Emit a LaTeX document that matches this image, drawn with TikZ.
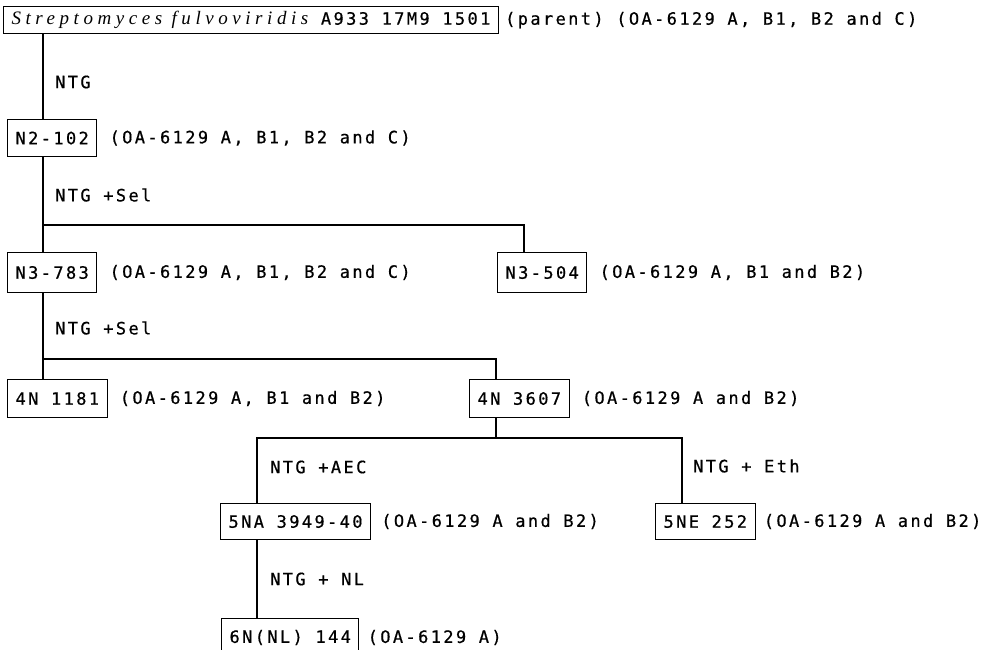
\documentclass[tikz,border=0pt]{standalone}
\usepackage{fontspec}
\newfontfamily\labfont{DejaVu Sans Mono}[LetterSpace=14, FakeBold=0.6]
\newfontfamily\specfont{Liberation Serif}[LetterSpace=24]
\usetikzlibrary{positioning}

\begin{document}
\begin{tikzpicture}[
    x=1pt, y=-1pt,
    node distance=12pt,
    every node/.style={font=\labfont\fontsize{17}{20}\selectfont},
    % --- strain boxes ---
    strain/.style={
      draw, line width=1.1pt, anchor=north west,
      minimum height=37pt, inner xsep=8pt, inner ysep=0pt,
    },
    % --- products of a strain ---
    prod/.style={inner sep=0pt},
    % --- mutagen treatment ---
    treat/.style={anchor=west, inner sep=0pt},
    link/.style={line width=1.1pt},
  ]

  \useasboundingbox (0,0) rectangle (1001,650);
  \clip (0,0) rectangle (1001,650);

  %% ---- Strains ----

  % Parent
  \node[strain, minimum height=27pt, minimum width=491pt] (parent) at (3,6)
    {{\specfont\itshape\fontsize{19}{20}\selectfont Streptomyces\ fulvoviridis} A933 17M9 1501};

  % Generation 2 and 3
  \node[strain] (n2) at (7,119) {N2-102};
  \node[strain, minimum height=40pt] (n3a) at (7,252) {N3-783};
  \node[strain, minimum height=40pt] (n3b) at (497,252) {N3-504};

  % Generation 4
  \node[strain, minimum height=38pt] (n4a) at (7,379) {4N 1181};
  \node[strain, minimum height=38pt] (n4b) at (469,379) {4N 3607};

  % Generation 5 and 6
  \node[strain, minimum height=36pt] (n5a) at (220,503) {5NA 3949-40};
  \node[strain, minimum height=36pt] (n5b) at (655,503) {5NE 252};
  \node[strain, minimum height=38pt] (n6) at (221,618) {6N(NL) 144};

  %% ---- Products ----

  \node[prod, right=6pt of parent] (pparent) {(parent) (OA-6129 A, B1, B2 and C)};
  \node[prod, right=of n2] (pn2) {(OA-6129 A, B1, B2 and C)};
  \node[prod, right=of n3a] (pn3a) {(OA-6129 A, B1, B2 and C)};
  \node[prod, right=of n3b] (pn3b) {(OA-6129 A, B1 and B2)};
  \node[prod, right=of n4a] (pn4a) {(OA-6129 A, B1 and B2)};
  \node[prod, right=of n4b] (pn4b) {(OA-6129 A and B2)};
  \node[prod, right=10pt of n5a] (pn5a) {(OA-6129 A and B2)};
  \node[prod, right=8pt of n5b] (pn5b) {(OA-6129 A and B2)};
  \node[prod, right=8pt of n6] (pn6) {(OA-6129 A)};

  %% ---- Lines of descent ----

  \coordinate (colA) at (43,0);
  \coordinate (colB) at (524,0);
  \coordinate (colC) at (496,0);
  \coordinate (colD) at (257,0);
  \coordinate (colE) at (682,0);
  \coordinate (fork1) at (43,225);
  \coordinate (fork2) at (43,359);
  \coordinate (fork3) at (496,438);

  \draw[link] (parent.south -| colA) -- (n2.north -| colA);
  \draw[link] (n2.south -| colA) -- (n3a.north -| colA);
  \draw[link] (fork1) -| (n3b.north -| colB);
  \draw[link] (n3a.south -| colA) -- (n4a.north -| colA);
  \draw[link] (fork2) -| (n4b.north -| colC);
  \draw[link] (n4b.south -| colC) -- (fork3);
  \draw[link] (n5a.north -| colD) |- (fork3) -| (n5b.north -| colE);
  \draw[link] (n5a.south -| colD) -- (n6.north -| colD);

  %% ---- Treatments ----

  \node[treat] (t1) at (55,82) {NTG};
  \node[treat] (t2) at (55,195) {NTG +Sel};
  \node[treat] (t3) at (55,328) {NTG +Sel};
  \node[treat] (t4) at (270,467) {NTG +AEC};
  \node[treat] (t5) at (693,466) {NTG + Eth};
  \node[treat] (t6) at (270,579) {NTG + NL};

\end{tikzpicture}
\end{document}
